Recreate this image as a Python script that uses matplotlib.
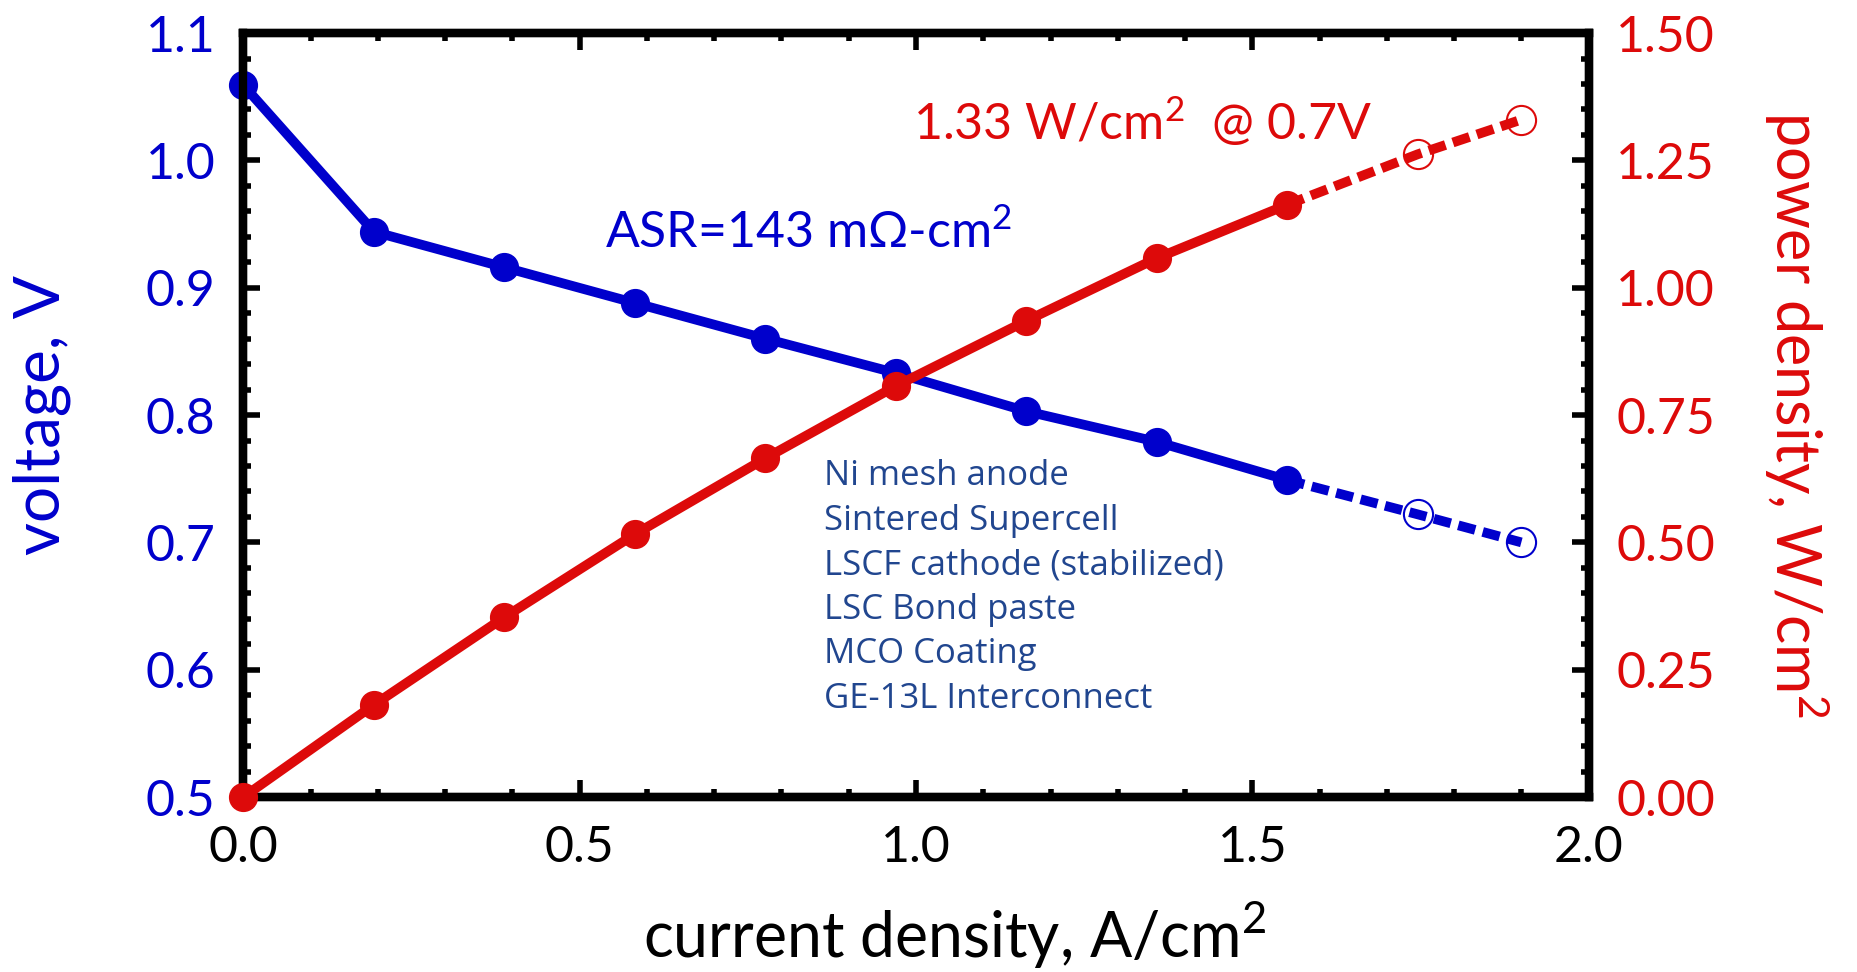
import matplotlib
matplotlib.use("Agg")
import matplotlib.pyplot as plt
from matplotlib.ticker import MultipleLocator

# ===============================
# Data
# ===============================
current = [0.0, 0.194, 0.388, 0.582, 0.776, 0.970, 1.164, 1.358, 1.552]
voltage = [1.059, 0.944, 0.916, 0.888, 0.860, 0.833, 0.803, 0.779, 0.749]
power = [0.0, 0.181, 0.353, 0.516, 0.665, 0.807, 0.935, 1.058, 1.163]

# extrapolated points (open markers, dashed)
current_ext = [1.552, 1.746, 1.900]
voltage_ext = [0.749, 0.722, 0.700]
power_ext = [1.163, 1.262, 1.330]

notes = ["Ni mesh anode", "Sintered Supercell", "LSCF cathode (stabilized)",
         "LSC Bond paste", "MCO Coating", "GE-13L Interconnect"]

BLUE = "#0000cc"
RED = "#dd0a0a"
NOTE = "#21468f"

plt.rcParams['font.family'] = ['Lato', 'DejaVu Sans']
plt.rcParams['mathtext.fontset'] = 'custom'
plt.rcParams['mathtext.rm'] = 'Lato'
plt.rcParams['mathtext.default'] = 'regular'

fig = plt.figure(figsize=(18.58, 9.72), dpi=100)
ax = fig.add_axes([0.131, 0.180, 0.724, 0.786])
ax2 = ax.twinx()

# voltage curve
ax.plot(current, voltage, color=BLUE, lw=7, marker='o', ms=20, zorder=3, clip_on=False)
ax.plot(current_ext, voltage_ext, color=BLUE, lw=7, dashes=(1.8, 0.8), zorder=3)
ax.plot(current_ext[1:], voltage_ext[1:], ls='none', marker='o', ms=21,
        mfc='none', mec=BLUE, mew=1.5, zorder=4)

# power curve
ax2.plot(current, power, color=RED, lw=7, marker='o', ms=20, zorder=3, clip_on=False)
ax2.plot(current_ext, power_ext, color=RED, lw=7, dashes=(1.8, 0.8), zorder=3)
ax2.plot(current_ext[1:], power_ext[1:], ls='none', marker='o', ms=21,
         mfc='none', mec=RED, mew=1.5, zorder=4)

ax.set_xlim(0, 2.0)
ax.set_ylim(0.5, 1.1)
ax2.set_ylim(0, 1.5)

ax.xaxis.set_major_locator(MultipleLocator(0.5))
ax.xaxis.set_minor_locator(MultipleLocator(0.1))
ax.yaxis.set_major_locator(MultipleLocator(0.1))
ax.yaxis.set_minor_locator(MultipleLocator(0.02))
ax2.yaxis.set_major_locator(MultipleLocator(0.25))
ax2.yaxis.set_minor_locator(MultipleLocator(0.05))
ax.xaxis.set_major_formatter(lambda v, p: f"{v:.1f}")
ax.yaxis.set_major_formatter(lambda v, p: f"{v:.1f}")
ax2.yaxis.set_major_formatter(lambda v, p: f"{v:.2f}")

for a in (ax, ax2):
    for s in a.spines.values():
        s.set_linewidth(6)
    a.tick_params(which='major', direction='in', length=12, width=4, pad=20, labelsize=36)
    a.tick_params(which='minor', direction='in', length=6, width=4)

ax.tick_params(which='both', top=True, right=False)
ax.tick_params(axis='y', which='major', labelcolor=BLUE)
ax2.tick_params(axis='y', which='major', labelcolor=RED)

ax.set_xlabel("current density, A/cm$^2$", fontsize=45, labelpad=20)
ax.xaxis.label.set_x(0.529)
ax.set_ylabel("voltage, V", fontsize=46, color=BLUE, labelpad=54)
ax2.set_ylabel("power density, W/cm$^2$", fontsize=44, color=RED,
               rotation=270, labelpad=84)

ax.text(0.537, 0.931, "ASR=143 mΩ-cm$^2$", color=BLUE, fontsize=36)
ax.text(0.996, 1.016, "1.33 W/cm$^2$  @ 0.7V", color=RED, fontsize=36)

for i, line in enumerate(notes):
    ax.text(0.863, 0.752 - i * 0.035, line, color=NOTE, fontsize=25,
            family=['Open Sans', 'DejaVu Sans'], va='center')

fig.savefig("out.png", dpi=100)
